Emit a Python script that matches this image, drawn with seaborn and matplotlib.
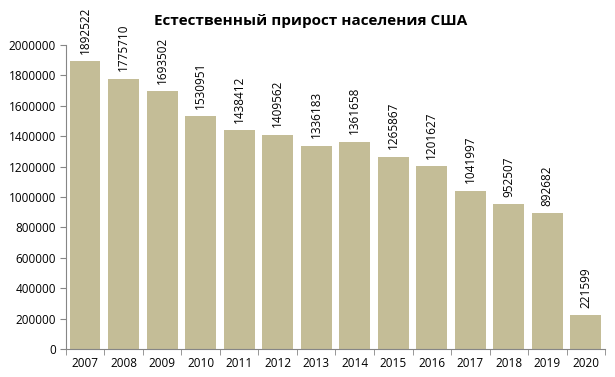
import numpy as np
import pandas as pd
import matplotlib.pyplot as plt
import seaborn as sns

years = ['2007', '2008', '2009', '2010', '2011', '2012', '2013',
         '2014', '2015', '2016', '2017', '2018', '2019', '2020']
growth = [1892522, 1775710, 1693502, 1530951, 1438412, 1409562, 1336183,
          1361658, 1265867, 1201627, 1041997, 952507, 892682, 221599]

df = pd.DataFrame({'year': years, 'growth': growth})

sns.set_style('white')
plt.rcParams['font.family'] = ['Open Sans', 'DejaVu Sans']
plt.rcParams['text.color'] = 'black'
plt.rcParams['xtick.color'] = 'black'
plt.rcParams['ytick.color'] = 'black'

fig = plt.figure(figsize=(6.15, 3.77), dpi=100)
ax = fig.add_axes([0.107, 0.074, 0.877, 0.807])

sns.barplot(data=df, x='year', y='growth', color='#C4BD97', saturation=1,
            width=0.8, linewidth=0, ax=ax)

ax.set_ylim(0, 2000000)
ax.set_xlim(-0.5, len(years) - 0.5)
ax.set_yticks(np.arange(0, 2000001, 200000))
ax.set_yticklabels([str(v) for v in range(0, 2000001, 200000)], fontsize=8.5)
ax.set_xlabel('')
ax.set_ylabel('')
ax.tick_params(axis='x', length=0, labelsize=8.5, pad=6)
ax.tick_params(axis='y', length=4, color='#868686', left=True, pad=3)
# tick marks between categories on x axis
ax.set_xticks(np.arange(-0.5, len(years), 1), minor=True)
ax.tick_params(axis='x', which='minor', length=4, color='#868686', bottom=True)

for s in ['top', 'right']:
    ax.spines[s].set_visible(False)
for s in ['left', 'bottom']:
    ax.spines[s].set_color('#868686')
    ax.spines[s].set_linewidth(0.8)

for i, v in enumerate(growth):
    ax.text(i, v + 50000, str(v), rotation=90, ha='center', va='bottom',
            fontsize=8.5, clip_on=False)

fig.text(0.505, 0.945, 'Естественный прирост населения США', ha='center',
         va='center', fontsize=11, fontweight='bold')

fig.savefig('out.png', dpi=100)
